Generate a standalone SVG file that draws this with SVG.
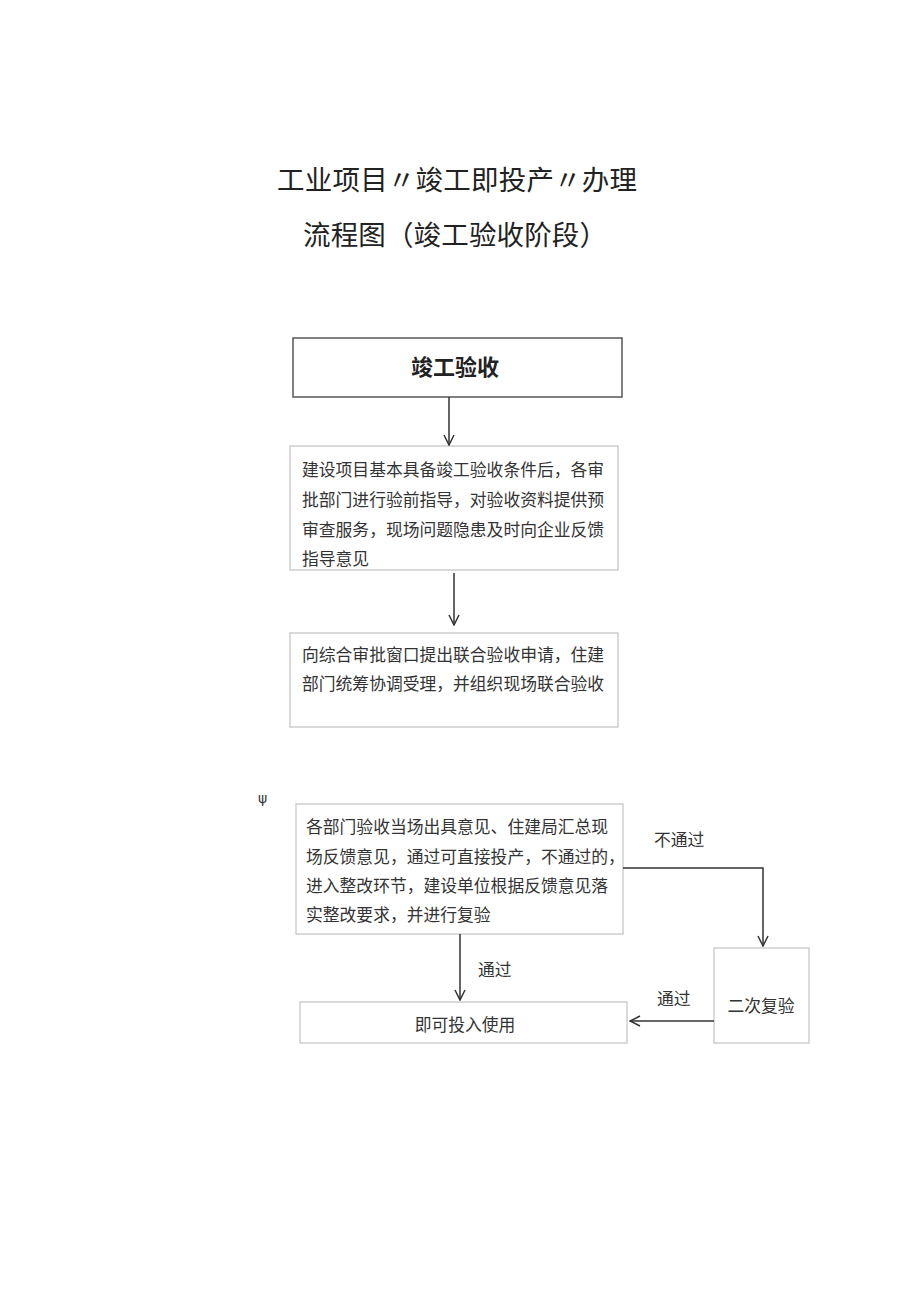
<svg xmlns="http://www.w3.org/2000/svg" width="920" height="1301" viewBox="0 0 920 1301">
<style>
text{font-family:"Noto Sans CJK SC","Noto Sans",sans-serif;fill:#333}
.title{font-size:27.5px;fill:#222}
.t{font-size:16.8px}
.box{fill:#fff;stroke:#c4c0c4;stroke-width:1.2}
.box1{fill:#fff;stroke:#555;stroke-width:1.5}
.c{stroke:#333;stroke-width:1.5;fill:none}
</style>
<defs>
<marker id="ah" viewBox="0 0 12 12" refX="11" refY="6" markerWidth="12" markerHeight="12" markerUnits="userSpaceOnUse" orient="auto">
<path d="M1,1 L11,6 L1,11" fill="none" stroke="#333" stroke-width="1.5"/>
</marker>
</defs>
<rect width="920" height="1301" fill="#fff"/>
<g id="title">
<text class="title" x="277" y="190" textLength="360" lengthAdjust="spacing">工业项目〃竣工即投产〃办理</text>
<text class="title" x="303" y="245" textLength="304" lengthAdjust="spacing">流程图（竣工验收阶段）</text>
</g>
<g id="n1">
<rect class="box1" x="293" y="338" width="329" height="59"/>
<text x="455" y="375" text-anchor="middle" style="font-size:22px;font-weight:bold;fill:#222">竣工验收</text>
</g>
<g id="n2">
<rect class="box" x="290" y="446" width="328" height="124"/>
<text class="t" x="302" y="476">建设项目基本具备竣工验收条件后，各审</text>
<text class="t" x="302" y="506">批部门进行验前指导，对验收资料提供预</text>
<text class="t" x="302" y="536">审查服务，现场问题隐患及时向企业反馈</text>
<text class="t" x="302" y="565">指导意见</text>
</g>
<g id="n3">
<rect class="box" x="290" y="633" width="328" height="94"/>
<text class="t" x="302" y="661">向综合审批窗口提出联合验收申请，住建</text>
<text class="t" x="302" y="690">部门统筹协调受理，并组织现场联合验收</text>
</g>
<text x="258" y="803" style="font-size:14px;font-family:'DejaVu Sans',sans-serif">ψ</text>
<g id="n4">
<rect class="box" x="296" y="804" width="327" height="130"/>
<text class="t" x="306" y="833">各部门验收当场出具意见、住建局汇总现</text>
<text class="t" x="306" y="863">场反馈意见，通过可直接投产，不通过的，</text>
<text class="t" x="306" y="892">进入整改环节，建设单位根据反馈意见落</text>
<text class="t" x="306" y="921">实整改要求，并进行复验</text>
</g>
<g id="n5">
<rect class="box" x="714" y="948" width="95" height="95"/>
<text class="t" x="761" y="1012" text-anchor="middle">二次复验</text>
</g>
<g id="n6">
<rect class="box" x="300" y="1002" width="327" height="41"/>
<text class="t" x="465" y="1031" text-anchor="middle">即可投入使用</text>
</g>
<g id="connectors">
<line class="c" x1="449" y1="397" x2="449" y2="445" marker-end="url(#ah)"/>
<line class="c" x1="454" y1="573" x2="454" y2="625" marker-end="url(#ah)"/>
<polyline class="c" points="623,868 763,868 763,946" marker-end="url(#ah)"/>
<line class="c" x1="460" y1="934" x2="460" y2="1000" marker-end="url(#ah)"/>
<line class="c" x1="714" y1="1021" x2="630" y2="1021" marker-end="url(#ah)"/>
<text class="t" x="654" y="846">不通过</text>
<text class="t" x="478" y="976">通过</text>
<text class="t" x="657" y="1005">通过</text>
</g>
</svg>
